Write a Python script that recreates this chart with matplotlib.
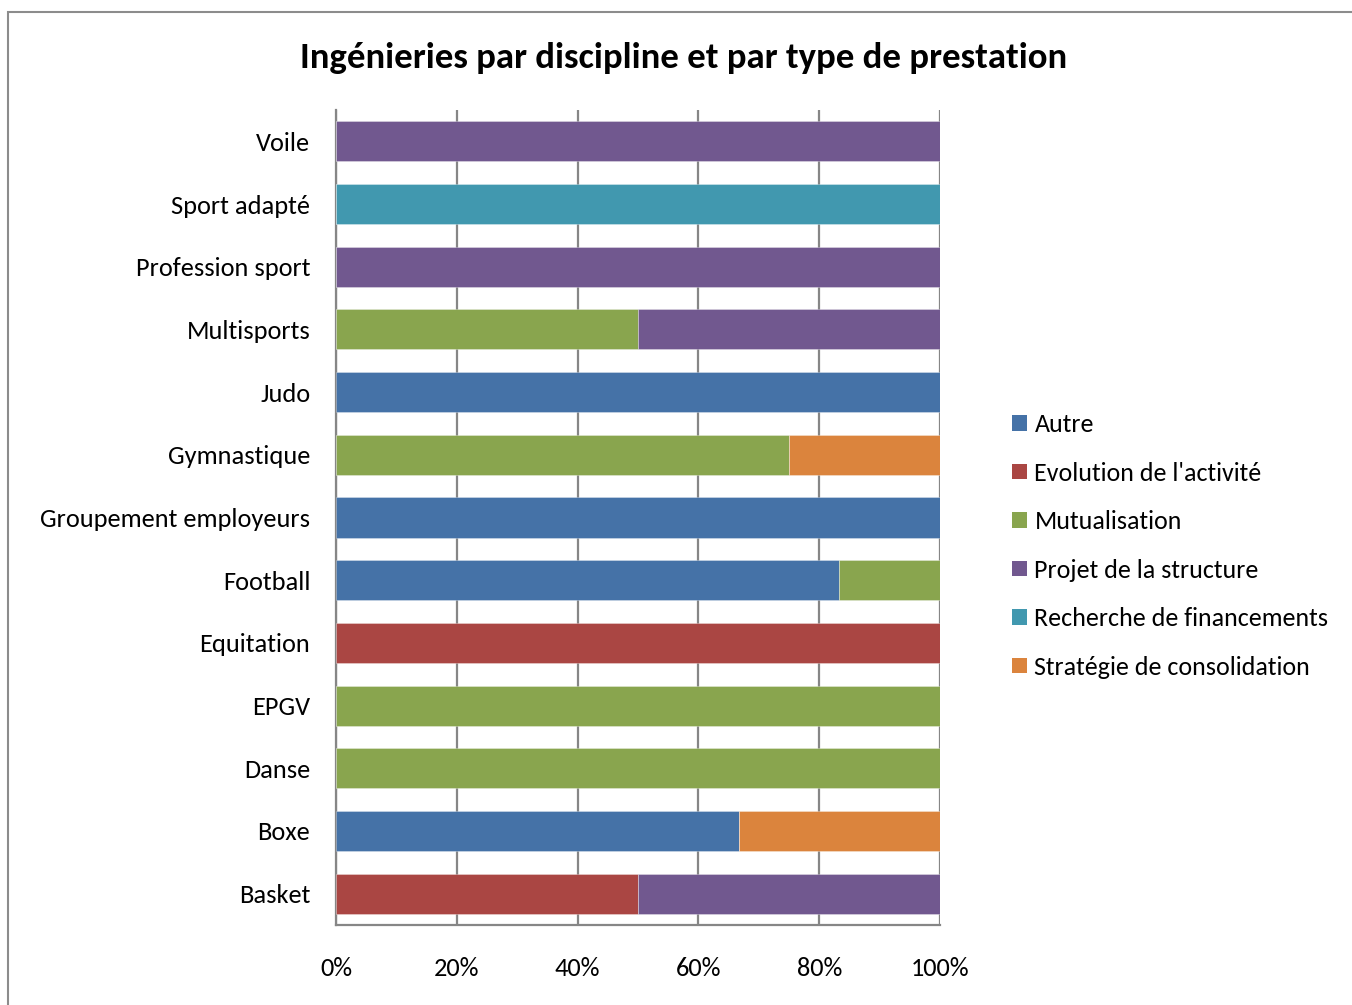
import numpy as np
import matplotlib.pyplot as plt
from matplotlib.patches import Rectangle, Patch

plt.rcParams['font.family'] = ['Carlito', 'Lato', 'DejaVu Sans']

disciplines = ["Basket", "Boxe", "Danse", "EPGV", "Equitation", "Football",
               "Groupement employeurs", "Gymnastique", "Judo", "Multisports",
               "Profession sport", "Sport adapté", "Voile"]

types = ["Autre", "Evolution de l'activité", "Mutualisation",
         "Projet de la structure", "Recherche de financements",
         "Stratégie de consolidation"]

# parts en % par discipline (même ordre que disciplines)
autre = [0, 66.7, 0, 0, 0, 83.3, 100, 0, 100, 0, 0, 0, 0]
evolution = [50, 0, 0, 0, 100, 0, 0, 0, 0, 0, 0, 0, 0]
mutualisation = [0, 0, 100, 100, 0, 16.7, 0, 75, 0, 50, 0, 0, 0]
projet = [50, 0, 0, 0, 0, 0, 0, 0, 0, 50, 100, 0, 100]
recherche = [0, 0, 0, 0, 0, 0, 0, 0, 0, 0, 0, 100, 0]
strategie = [0, 33.3, 0, 0, 0, 0, 0, 25, 0, 0, 0, 0, 0]

series = [autre, evolution, mutualisation, projet, recherche, strategie]
colors = ["#4572A7", "#AA4643", "#89A54E", "#71588F", "#4198AF", "#DB843D"]

fig = plt.figure(figsize=(13.52, 10.05), dpi=100)
ax = fig.add_axes([336 / 1352, 1 - 925 / 1005, 604 / 1352, 815 / 1005])

# cadre du graphique
fig.patches.append(Rectangle((8 / 1352, -0.1), 1.2, 1 - 12 / 1005 + 0.1,
                             transform=fig.transFigure, fill=False,
                             edgecolor="#8c8c8c", linewidth=1.5))

y = np.arange(len(disciplines))
left = np.zeros(len(disciplines))
for vals, c in zip(series, colors):
    vals = np.array(vals, dtype=float)
    ax.barh(y, vals, left=left, height=0.64, color=c,
            edgecolor=(1, 1, 1, 0.35), linewidth=0.6, zorder=3)
    left += vals

ax.set_xlim(0, 100)
ax.set_ylim(-0.5, len(disciplines) - 0.5)
ax.set_xticks(np.arange(0, 101, 20))
ax.set_xticklabels([f"{v}%" for v in range(0, 101, 20)], fontsize=19)
ax.set_yticks(y)
ax.set_yticklabels(disciplines, fontsize=19)
ax.tick_params(axis='x', length=0, pad=23)
ax.tick_params(axis='y', length=0, pad=18.5)
ax.xaxis.grid(True, color="#868686", linewidth=1.6, zorder=0)
ax.set_axisbelow(True)
for s in ["top", "right"]:
    ax.spines[s].set_visible(False)
for s in ["left", "bottom"]:
    ax.spines[s].set_color("#868686")
    ax.spines[s].set_linewidth(1.6)

fig.text(684 / 1352, 1 - 58 / 1005, "Ingénieries par discipline et par type de prestation",
         ha="center", va="center", fontsize=26.5, fontweight="bold")

handles = [Patch(facecolor=c, edgecolor="none") for c in colors]
fig.legend(handles, types, loc="center left",
           bbox_to_anchor=(989 / 1352, 1 - 546 / 1005), frameon=False,
           fontsize=18.7, labelspacing=0.98, handlelength=0.55, handleheight=0.55,
           handletextpad=0.3)

fig.savefig("out.png", dpi=100)
